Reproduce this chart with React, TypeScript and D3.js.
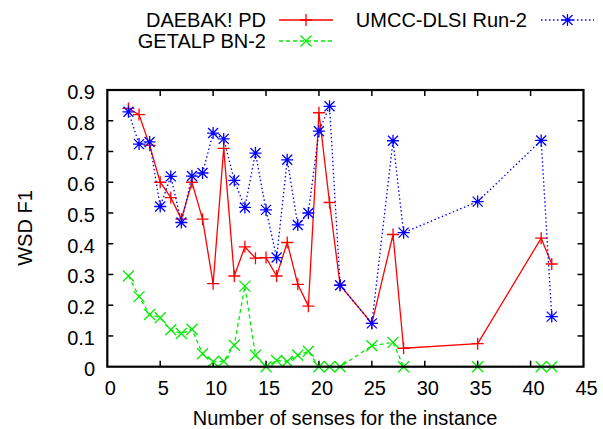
import React from "react";
import * as d3 from "d3";

const daebakX = [2, 3, 4, 5, 6, 7, 8, 9, 10, 11, 12, 13, 14, 15, 16, 17, 18, 19, 20, 21, 22, 25, 27, 28, 35, 41, 42];
const daebakY = [0.84, 0.82, 0.72, 0.6, 0.55, 0.48, 0.6, 0.48, 0.27, 0.71, 0.295, 0.39, 0.353, 0.355, 0.295, 0.404, 0.268, 0.197, 0.826, 0.534, 0.265, 0.141, 0.43, 0.06, 0.075, 0.418, 0.334];

const getalpX = [2, 3, 4, 5, 6, 7, 8, 9, 10, 11, 12, 13, 14, 15, 16, 17, 18, 19, 20, 21, 22, 25, 27, 28, 35, 41, 42];
const getalpY = [0.295, 0.228, 0.17, 0.159, 0.12, 0.108, 0.122, 0.042, 0.016, 0.018, 0.07, 0.262, 0.037, 0, 0.02, 0.017, 0.037, 0.05, 0, 0, 0, 0.068, 0.079, 0, 0, 0, 0];

const umccX = [2, 3, 4, 5, 6, 7, 8, 9, 10, 11, 12, 13, 14, 15, 16, 17, 18, 19, 20, 21, 22, 25, 27, 28, 35, 41, 42];
const umccY = [0.829, 0.724, 0.731, 0.521, 0.619, 0.469, 0.62, 0.63, 0.76, 0.741, 0.606, 0.518, 0.695, 0.51, 0.355, 0.673, 0.461, 0.5, 0.766, 0.847, 0.265, 0.141, 0.735, 0.436, 0.537, 0.736, 0.163];

const xTicks = [0, 5, 10, 15, 20, 25, 30, 35, 40, 45];
const yTicks = [0, 0.1, 0.2, 0.3, 0.4, 0.5, 0.6, 0.7, 0.8, 0.9];

const W = 603;
const H = 429;
const left = 107.3;
const right = 583.5;
const top = 90;
const bottom = 366.7;
const FONT = "'Liberation Sans', Arial, Helvetica, sans-serif";

const x = d3.scaleLinear().domain([0, 45]).range([left, right]);
const y = d3.scaleLinear().domain([0, 0.9]).range([bottom, top]);

type Pt = [number, number];

function Plus({ cx, cy, color }: { cx: number; cy: number; color: string }) {
  const s = 6;
  return <path d={`M${cx - s},${cy}H${cx + s}M${cx},${cy - s}V${cy + s}`} stroke={color} strokeWidth={1.3} fill="none" />;
}
function Cross({ cx, cy, color }: { cx: number; cy: number; color: string }) {
  const s = 5.5;
  return <path d={`M${cx - s},${cy - s}L${cx + s},${cy + s}M${cx - s},${cy + s}L${cx + s},${cy - s}`} stroke={color} strokeWidth={1.3} fill="none" />;
}
function Star({ cx, cy, color }: { cx: number; cy: number; color: string }) {
  const s = 6;
  const d = 5;
  return (
    <path
      d={`M${cx - s},${cy}H${cx + s}M${cx},${cy - s}V${cy + s}M${cx - d},${cy - d}L${cx + d},${cy + d}M${cx - d},${cy + d}L${cx + d},${cy - d}`}
      stroke={color}
      strokeWidth={1.3}
      fill="none"
    />
  );
}

const line = d3.line<Pt>().x((d) => x(d[0])).y((d) => y(d[1]));

const series = [
  { name: "DAEBAK! PD", xs: daebakX, ys: daebakY, color: "#ff0000", dash: "none", M: Plus },
  { name: "GETALP BN-2", xs: getalpX, ys: getalpY, color: "#00ee00", dash: "4,3", M: Cross },
  { name: "UMCC-DLSI Run-2", xs: umccX, ys: umccY, color: "#0000ff", dash: "1.5,2.5", M: Star },
];

export default function App() {
  const legendPos = [
    { tx: 266, ly: 20, by: 27.3, lx0: 279, lx1: 333, anchor: "end" },
    { tx: 266, ly: 41, by: 47.7, lx0: 279, lx1: 333, anchor: "end" },
    { tx: 527, ly: 20, by: 27.3, lx0: 541, lx1: 594, anchor: "end" },
  ];
  return (
    <svg width={W} height={H} style={{ position: "absolute", left: 0, top: 0, background: "#fff" }} fontFamily={FONT}>
      <rect x={0} y={0} width={W} height={H} fill="#fff" />
      {/* ticks */}
      {xTicks.map((t) => (
        <g key={"xt" + t}>
          {t > 0 && t < 45 && (
            <>
              <line x1={x(t)} x2={x(t)} y1={bottom} y2={bottom - 6} stroke="#000" strokeWidth={1.5} />
              <line x1={x(t)} x2={x(t)} y1={top} y2={top + 6} stroke="#000" strokeWidth={1.5} />
            </>
          )}
          <text x={x(t) + 3} y={bottom + 28.5} fontSize={20} textAnchor="middle" fill="#000">
            {t}
          </text>
        </g>
      ))}
      {yTicks.map((t) => (
        <g key={"yt" + t}>
          {t > 0 && t < 0.9 && (
            <>
              <line x1={left} x2={left + 6} y1={y(t)} y2={y(t)} stroke="#000" strokeWidth={1.5} />
              <line x1={right} x2={right - 6} y1={y(t)} y2={y(t)} stroke="#000" strokeWidth={1.5} />
            </>
          )}
          <text x={95} y={y(t) + 9} fontSize={20} textAnchor="end" fill="#000">
            {t === 0 ? "0" : t.toFixed(1)}
          </text>
        </g>
      ))}
      {/* series */}
      {series.map((s) => {
        const pts: Pt[] = s.xs.map((v, i) => [v, s.ys[i]]);
        const M = s.M;
        return (
          <g key={s.name}>
            <path d={line(pts) || ""} fill="none" stroke={s.color} strokeWidth={1.3} strokeDasharray={s.dash} />
            {pts.map((p, i) => (
              <M key={i} cx={x(p[0])} cy={y(p[1])} color={s.color} />
            ))}
          </g>
        );
      })}
      {/* frame */}
      <rect x={left} y={top} width={right - left} height={bottom - top} fill="none" stroke="#000" strokeWidth={2.2} />
      {/* legend */}
      {series.map((s, i) => {
        const p = legendPos[i];
        const M = s.M;
        return (
          <g key={"lg" + s.name}>
            <text x={p.tx} y={p.by} fontSize={20} textAnchor={p.anchor as any} fill="#000">
              {s.name}
            </text>
            <line x1={p.lx0} x2={p.lx1} y1={p.ly} y2={p.ly} stroke={s.color} strokeWidth={1.3} strokeDasharray={s.dash} />
            <M cx={(p.lx0 + p.lx1) / 2} cy={p.ly} color={s.color} />
          </g>
        );
      })}
      {/* axis titles */}
      <text x={345} y={425} fontSize={20} textAnchor="middle" fill="#000">
        Number of senses for the instance
      </text>
      <text transform={`translate(32,228) rotate(-90)`} fontSize={20} textAnchor="middle" fill="#000">
        WSD F1
      </text>
    </svg>
  );
}
